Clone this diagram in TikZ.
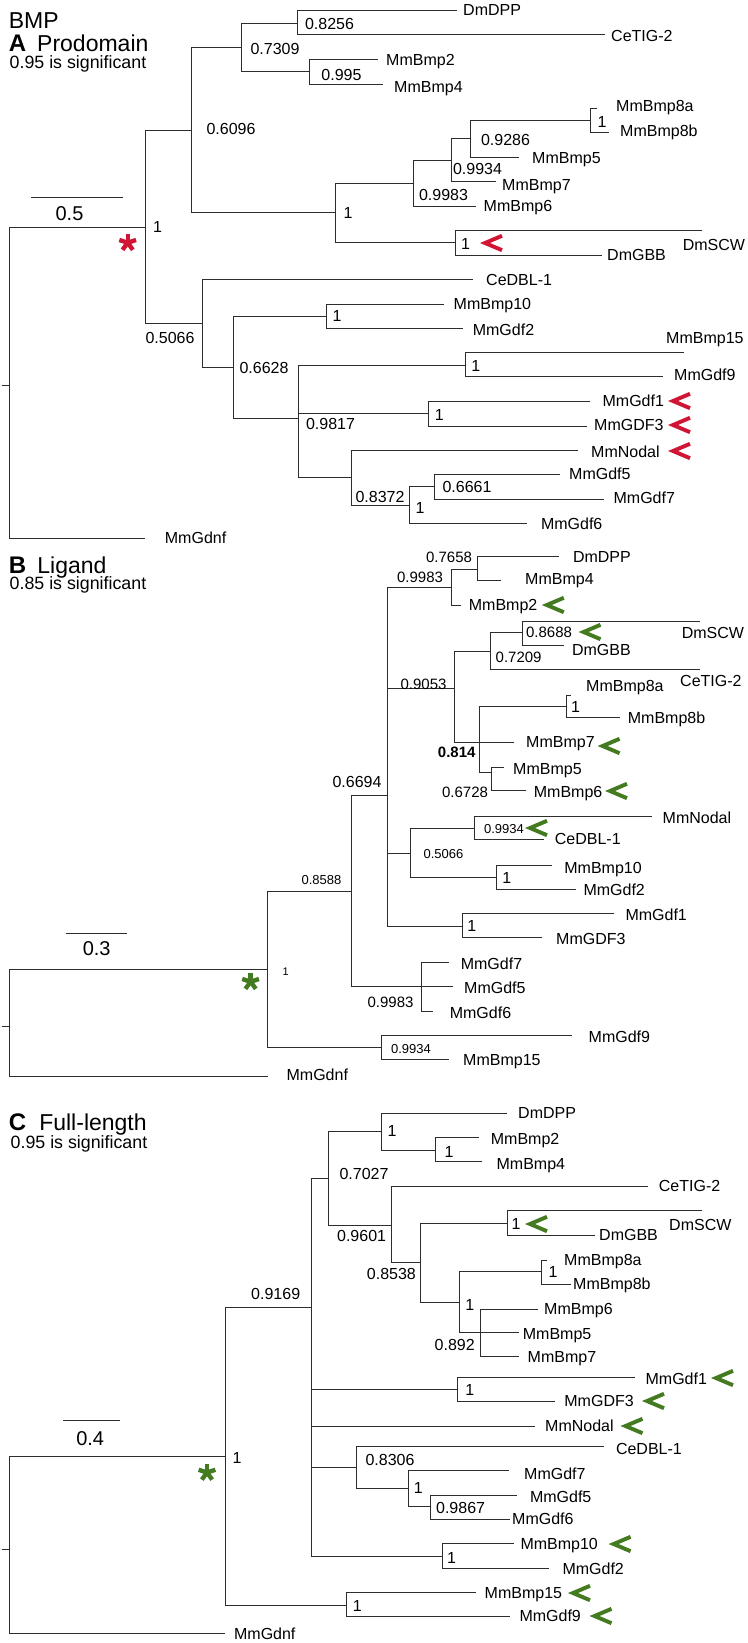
\documentclass[tikz,border=0pt]{standalone}
\usepackage{fontspec}
\setmainfont{Liberation Sans}
\usetikzlibrary{positioning}
\definecolor{sigred}{RGB}{208,22,52}
\definecolor{siggreen}{RGB}{68,122,32}
\definecolor{branchgray}{RGB}{45,45,45}

\tikzset{
  branch/.style={draw=branchgray, line width=1pt, line cap=rect},
  leaf/.style={anchor=west, inner sep=0pt, text height=11.5pt, text depth=0pt,
               font=\fontsize{16}{18}\selectfont},
  boot/.style={anchor=center, inner sep=0pt, text height=11.5pt, text depth=0pt,
               font=\fontsize{16}{18}\selectfont},
  bootmd/.style={boot, text height=10.8pt, font=\fontsize{15}{17}\selectfont},
  bootsm/.style={boot, text height=9.4pt, font=\fontsize{13}{15}\selectfont},
  boottn/.style={boot, text height=8pt, font=\fontsize{11}{13}\selectfont},
  bootbf/.style={bootmd, font=\fontsize{15}{17}\selectfont\bfseries},
  ttl/.style={anchor=base west, inner sep=0pt, font=\fontsize{23}{25}\selectfont},
  ttlbf/.style={ttl, font=\fontsize{24}{26}\selectfont\bfseries},
  sig/.style={anchor=base west, inner sep=0pt, font=\fontsize{17.8}{19}\selectfont},
  scl/.style={anchor=center, inner sep=0pt, font=\fontsize{20}{22}\selectfont},
  chev/.pic={\draw[line width=3.9pt] (22,-7.2) -- (5,0) -- (22,7.2);},
  astk/.pic={\foreach \a in {270,342,54,126,198} \draw[line width=4.4pt] (0,0) -- (\a:8.8);}
}

\begin{document}
\begin{tikzpicture}[x=1pt, y=-1pt]
  \fill[white] (0,0) rectangle (747,1643);
  \useasboundingbox (0,0) rectangle (747,1643);

  % ---------------- A: prodomain
  \node[ttl] (bmp) at (8.6,28.3) {BMP};
  \node[ttlbf] (ttlA) at (8.6,51.7) {A};
  \node[ttl] (ttlAt) at (37,51.7) {Prodomain};
  \node[sig] (sigA) at (9.5,68.5) {0.95 is significant};

  \coordinate (asb1) at (31,197);
  \coordinate (asb2) at (122,197);
  \draw[branch] (asb1) -- (asb2);
  \node[scl] (asbl) at (69.5,214) {0.5};

  \coordinate (atick) at (2.4,385);
  \coordinate (aroot) at (9.5,385);
  \coordinate (aN1) at (145.6,227);
  \coordinate (aN6096) at (191,130.7);
  \coordinate (aN7309) at (241,47.7);
  \coordinate (aN8256) at (297,23.3);
  \coordinate (aN995) at (309,71.7);
  \coordinate (aNsub) at (335.6,212.7);
  \coordinate (aN9983) at (413.8,183.3);
  \coordinate (aN9934) at (451,160.7);
  \coordinate (aN9286) at (470,138.3);
  \coordinate (aNb8) at (590.5,120.7);
  \coordinate (aNscw) at (455.8,242.7);
  \coordinate (aN5066) at (202.9,323);
  \coordinate (aN6628) at (233.9,367.3);
  \coordinate (aNb10) at (326,316);
  \coordinate (aN9817) at (298.3,418.3);
  \coordinate (aNb15) at (465.4,365);
  \coordinate (aNg1) at (428.2,413.3);
  \coordinate (aNnod) at (351.8,477.7);
  \coordinate (aN8372) at (409.5,505);
  \coordinate (aN6661) at (434.4,486.7);

  \foreach \n/\x/\y/\lx/\ly/\t in {
      DmDPP/456/10.7/463/9.3/DmDPP, CeTIG/604/35/611/35.7/CeTIG-2,
      Bmp2/377/60/386/60/MmBmp2, Bmp4/382/84.3/394/87/MmBmp4,
      Bmp8a/596.7/108.3/616/106/MmBmp8a, Bmp8b/608.6/132.7/620/130.7/MmBmp8b,
      Bmp5/518/157.3/532/157.3/MmBmp5, Bmp7/495.5/181.7/502/184.3/MmBmp7,
      Bmp6/475/206/483.5/206/MmBmp6, DmSCW/701.7/230.7/682.6/244.3/DmSCW,
      DmGBB/601.4/255/607/255/DmGBB, CeDBL/472.6/279.3/486/279.3/CeDBL-1,
      Bmp10/443/304/453.5/304/MmBmp10, Gdf2/462/328.3/472.6/329.3/MmGdf2,
      Bmp15/683.5/352.3/666/337.7/MmBmp15, Gdf9/662.5/376.7/674/375/MmGdf9,
      Gdf1/589.5/401.7/602.4/401/MmGdf1, GDF3/586.2/426/594/425/MmGDF3,
      Nodal/577.6/450.7/591/451.7/MmNodal, Gdf5/559.4/474.3/569/473.3/MmGdf5,
      Gdf7/603.8/499/613.4/497.7/MmGdf7, Gdf6/526.5/523.3/540.8/523.3/MmGdf6,
      Gdnf/144.2/538.3/164.7/538/MmGdnf} {
    \coordinate (a\n) at (\x,\y);
    \node[leaf] (a\n-t) at (\lx,\ly) {\t};
  }

  \draw[branch] (atick) -- (aroot);
  \foreach \p/\c in {aroot/aN1, aroot/aGdnf, aN1/aN6096, aN1/aN5066,
      aN6096/aN7309, aN6096/aNsub, aN7309/aN8256, aN7309/aN995,
      aN8256/aDmDPP, aN8256/aCeTIG, aN995/aBmp2, aN995/aBmp4,
      aNsub/aN9983, aNsub/aNscw, aN9983/aN9934, aN9983/aBmp6,
      aN9934/aN9286, aN9934/aBmp7, aN9286/aNb8, aN9286/aBmp5,
      aNb8/aBmp8a, aNb8/aBmp8b, aNscw/aDmSCW, aNscw/aDmGBB,
      aN5066/aCeDBL, aN5066/aN6628, aN6628/aNb10, aN6628/aN9817,
      aNb10/aBmp10, aNb10/aGdf2, aN9817/aNb15, aN9817/aNg1, aN9817/aNnod,
      aNb15/aBmp15, aNb15/aGdf9, aNg1/aGdf1, aNg1/aGDF3,
      aNnod/aNodal, aNnod/aN8372, aN8372/aN6661, aN8372/aGdf6,
      aN6661/aGdf5, aN6661/aGdf7}
    \draw[branch] (\p) |- (\c);

  \foreach \s/\x/\y/\v [count=\i] in {
      boot/157.5/227/1, boot/231/129/0.6096, boot/275/48.5/0.7309,
      boot/329.5/23.5/0.8256, boot/341.5/75/0.995, boot/348/212.7/1,
      boot/443.5/194.3/0.9983, boot/477.5/168.3/0.9934, boot/505.5/140/0.9286,
      boot/602/121.7/1, boot/465.5/243.3/1, boot/170/338/0.5066,
      boot/264/367.5/0.6628, boot/337/316/1, boot/330.5/424/0.9817,
      boot/475.7/366/1, boot/439.2/415/1, boot/380/496.7/0.8372,
      boot/420/507.3/1, boot/467/486.7/0.6661}
    \node[\s] (abs\i) at (\x,\y) {\v};

  \pic[sigred] (aast) at (127.7,242.7) {astk};
  \foreach \x/\y [count=\i] in {480/243, 668/401, 668/425, 668/451}
    \pic[sigred] (ach\i) at (\x,\y) {chev};

  % ---------------- B: ligand
  \node[ttlbf] (ttlB) at (8.6,573.3) {B};
  \node[ttl] (ttlBt) at (37.2,573.3) {Ligand};
  \node[sig] (sigB) at (9.5,589.5) {0.85 is significant};

  \coordinate (bsb1) at (66.8,933.3);
  \coordinate (bsb2) at (126.5,933.3);
  \draw[branch] (bsb1) -- (bsb2);
  \node[scl] (bsbl) at (96.7,948.3) {0.3};

  \coordinate (btick) at (2.4,1026.7);
  \coordinate (broot) at (9.5,1026.7);
  \coordinate (bN1) at (267.3,969.3);
  \coordinate (bN8588) at (351.8,891);
  \coordinate (bN6694) at (387.6,795);
  \coordinate (bN9983) at (451,587.7);
  \coordinate (bN7658) at (477.3,569.3);
  \coordinate (bN9053) at (454.4,688.3);
  \coordinate (bN7209) at (490.2,651);
  \coordinate (bN8688) at (522.7,632.3);
  \coordinate (bN814) at (479.7,742.7);
  \coordinate (bNb8) at (566.6,706);
  \coordinate (bN6728) at (491.6,772.7);
  \coordinate (bN5066) at (410.5,853.3);
  \coordinate (bN9934a) at (474,828.3);
  \coordinate (bNb10) at (496.4,877.7);
  \coordinate (bNg1) at (462,926.7);
  \coordinate (bNg7) at (421.5,986.7);
  \coordinate (bN9934) at (381.9,1047.3);

  \foreach \n/\x/\y/\lx/\ly/\t in {
      DmDPP/558.5/556.7/572.8/556.7/DmDPP, Bmp4/500.2/580.7/525/578.3/MmBmp4,
      Bmp2/460.6/605.7/468.7/605/MmBmp2, DmSCW/699.3/621.7/681.6/632.3/DmSCW,
      DmGBB/563.2/645.7/571.8/650/DmGBB, CeTIG/699.3/669.3/680/680.7/CeTIG-2,
      Bmp8a/570.4/695/586/686/MmBmp8a, Bmp8b/619.6/717.7/627.7/717.7/MmBmp8b,
      Bmp7/513/742.7/526/741.7/MmBmp7, Bmp5/503.6/767.3/513/768.3/MmBmp5,
      Bmp6/525/790.7/533.7/791.7/MmBmp6, Nodal/651.6/816.7/662.5/817.7/MmNodal,
      CeDBL/543.2/839.3/554.7/838.3/CeDBL-1, Bmp10/551.3/865/564.2/867.3/MmBmp10,
      Gdf2/575.2/889.3/583.3/890/MmGdf2, Gdf1/613.4/913.3/625.3/915/MmGdf1,
      GDF3/541.8/937.7/556/938.3/MmGDF3, Gdf7/448.7/962.7/460.6/963.3/MmGdf7,
      Gdf5/452.5/986.7/464/987.3/MmGdf5, Gdf6/432/1011.7/449.6/1012.7/MmGdf6,
      Gdf9/571.8/1035.7/588.5/1036.7/MmGdf9, Bmp15/448.7/1059.3/463/1059.3/MmBmp15,
      Gdnf/267.3/1076/286.4/1075/MmGdnf} {
    \coordinate (b\n) at (\x,\y);
    \node[leaf] (b\n-t) at (\lx,\ly) {\t};
  }

  \draw[branch] (btick) -- (broot);
  \foreach \p/\c in {broot/bN1, broot/bGdnf, bN1/bN8588, bN1/bN9934,
      bN8588/bN6694, bN8588/bNg7,
      bN6694/bN9983, bN6694/bN9053, bN6694/bN5066, bN6694/bNg1,
      bN9983/bN7658, bN9983/bBmp2, bN7658/bDmDPP, bN7658/bBmp4,
      bN9053/bN7209, bN9053/bN814, bN7209/bN8688, bN7209/bCeTIG,
      bN8688/bDmSCW, bN8688/bDmGBB, bN814/bNb8, bN814/bBmp7, bN814/bN6728,
      bNb8/bBmp8a, bNb8/bBmp8b, bN6728/bBmp5, bN6728/bBmp6,
      bN5066/bN9934a, bN5066/bNb10, bN9934a/bNodal, bN9934a/bCeDBL,
      bNb10/bBmp10, bNb10/bGdf2, bNg1/bGdf1, bNg1/bGDF3,
      bNg7/bGdf7, bNg7/bGdf5, bNg7/bGdf6, bN9934/bGdf9, bN9934/bBmp15}
    \draw[branch] (\p) |- (\c);

  \foreach \s/\x/\y/\v [count=\i] in {
      bootmd/449/557/0.7658, bootmd/420/577/0.9983, bootmd/423.5/684/0.9053,
      bootmd/549/632.3/0.8688, bootmd/518.6/657/0.7209, boot/575.6/706.7/1,
      bootbf/456.7/751.7/0.814, bootmd/465/791.7/0.6728, boot/357/782/0.6694,
      bootsm/504/828.3/0.9934, bootsm/443.4/853.6/0.5066, boot/506.7/877.7/1,
      boot/471.8/926/1, bootsm/321.5/879.5/0.8588, boottn/285.6/971.7/1,
      bootmd/390.5/1002.3/0.9983, bootsm/411/1048.3/0.9934}
    \node[\s] (bbs\i) at (\x,\y) {\v};

  \pic[siggreen] (bast) at (250.6,981.7) {astk};
  \foreach \x/\y [count=\i] in {541.8/605, 578.5/632, 597.6/746, 605/791, 525/828}
    \pic[siggreen] (bch\i) at (\x,\y) {chev};

  % ---------------- C: full-length
  \node[ttlbf] (ttlC) at (8.6,1130.7) {C};
  \node[ttl] (ttlCt) at (39.1,1130.7) {Full-length};
  \node[sig] (sigC) at (10.5,1148.3) {0.95 is significant};

  \coordinate (csb1) at (63,1420.7);
  \coordinate (csb2) at (119.3,1420.7);
  \draw[branch] (csb1) -- (csb2);
  \node[scl] (csbl) at (90.2,1438.3) {0.4};

  \coordinate (ctick) at (2.4,1549.3);
  \coordinate (croot) at (9.5,1549.3);
  \coordinate (cN1) at (225.3,1456);
  \coordinate (cN9169) at (311.2,1307.3);
  \coordinate (cN7027) at (328,1178.3);
  \coordinate (cNdpp) at (381,1131.7);
  \coordinate (cNb2) at (435.3,1150);
  \coordinate (cN9601) at (391.4,1225);
  \coordinate (cN8538) at (420,1262.7);
  \coordinate (cNscw) at (507,1223.3);
  \coordinate (cNb1) at (459.2,1302.3);
  \coordinate (cNb8) at (541.8,1271.7);
  \coordinate (cN892) at (480.7,1332.7);
  \coordinate (cNg1) at (457.3,1389);
  \coordinate (cN8306) at (356.6,1467.3);
  \coordinate (cNg7) at (408.1,1488.3);
  \coordinate (cN9867) at (430.5,1506.7);
  \coordinate (cNb10) at (442.5,1556);
  \coordinate (cNb15) at (346,1605);

  \foreach \n/\x/\y/\lx/\ly/\t in {
      DmDPP/506/1113.3/518/1112.3/DmDPP, Bmp2/478.8/1137.7/490.7/1138.3/MmBmp2,
      Bmp4/481.2/1161.7/496.4/1163.3/MmBmp4, CeTIG/647.7/1186.7/658.7/1186/CeTIG-2,
      DmSCW/701.7/1210.7/669/1225/DmSCW, DmGBB/594.3/1235/599/1235/DmGBB,
      Bmp8a/546.5/1260/564/1260/MmBmp8a, Bmp8b/570.4/1284/573/1284/MmBmp8b,
      Bmp6/537/1309/544/1309/MmBmp6, Bmp5/518/1332.7/522.7/1333.3/MmBmp5,
      Bmp7/518/1356.7/527.5/1356.7/MmBmp7, Gdf1/634.8/1377.3/645.4/1378.3/MmGdf1,
      GDF3/554.7/1401/564.2/1401/MmGDF3, Nodal/534.6/1426/545/1426/MmNodal,
      CeDBL/603.8/1446.7/615.8/1448.3/CeDBL-1, Gdf7/508.4/1470/524/1473.3/MmGdf7,
      Gdf5/516.5/1495/529.8/1496.7/MmGdf5, Gdf6/509.8/1519.3/512/1518.3/MmGdf6,
      Bmp10/513.1/1543.3/520.3/1544/MmBmp10, Gdf2/548/1568.3/562.3/1568.3/MmGdf2,
      Bmp15/475/1592.7/484.5/1592.7/MmBmp15, Gdf9/509.8/1616.7/519.3/1616/MmGdf9,
      Gdnf/224.3/1633.3/233.9/1634/MmGdnf} {
    \coordinate (c\n) at (\x,\y);
    \node[leaf] (c\n-t) at (\lx,\ly) {\t};
  }

  \draw[branch] (ctick) -- (croot);
  \foreach \p/\c in {croot/cN1, croot/cGdnf, cN1/cN9169, cN1/cNb15,
      cN9169/cN7027, cN9169/cNg1, cN9169/cNodal, cN9169/cN8306, cN9169/cNb10,
      cN7027/cNdpp, cN7027/cN9601, cNdpp/cDmDPP, cNdpp/cNb2,
      cNb2/cBmp2, cNb2/cBmp4, cN9601/cCeTIG, cN9601/cN8538,
      cN8538/cNscw, cN8538/cNb1, cNscw/cDmSCW, cNscw/cDmGBB,
      cNb1/cNb8, cNb1/cN892, cNb8/cBmp8a, cNb8/cBmp8b,
      cN892/cBmp6, cN892/cBmp5, cN892/cBmp7, cNg1/cGdf1, cNg1/cGDF3,
      cN8306/cCeDBL, cN8306/cNg7, cNg7/cGdf7, cNg7/cN9867,
      cN9867/cGdf5, cN9867/cGdf6, cNb10/cBmp10, cNb10/cGdf2,
      cNb15/cBmp15, cNb15/cGdf9}
    \draw[branch] (\p) |- (\c);

  \foreach \s/\x/\y/\v [count=\i] in {
      boot/392/1131/1, boot/449/1151.7/1, boot/364/1173.3/0.7027,
      boot/361.6/1235.3/0.9601, boot/391.4/1273.3/0.8538, boot/516/1224/1,
      boot/553/1271.7/1, boot/469.7/1305/1, boot/454.7/1345/0.892,
      boot/275.7/1293.7/0.9169, boot/469.7/1389.3/1, boot/390/1459.3/0.8306,
      boot/418.4/1487.7/1, boot/460.6/1507.3/0.9867, boot/451.5/1557.7/1,
      boot/237/1457.3/1, boot/357.2/1606/1}
    \node[\s] (cbs\i) at (\x,\y) {\v};

  \pic[siggreen] (cast) at (207,1472.5) {astk};
  \foreach \x/\y [count=\i] in {525/1224, 711/1378, 642/1401, 620.5/1426,
      608.6/1544, 568/1593, 589.5/1616}
    \pic[siggreen] (cch\i) at (\x,\y) {chev};
\end{tikzpicture}
\end{document}
